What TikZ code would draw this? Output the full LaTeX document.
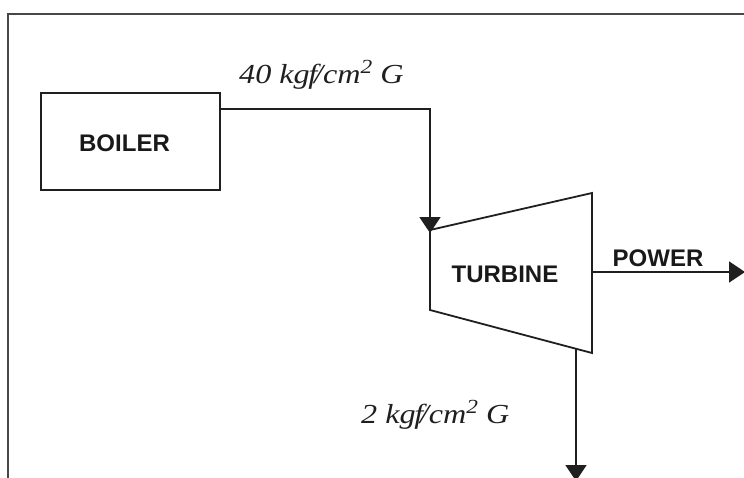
\documentclass[tikz,border=0pt]{standalone}
\usepackage{fontspec}
\setmainfont{Liberation Serif}
\setsansfont{Liberation Sans}
\newfontfamily\lblfont[FakeStretch=1.17]{Liberation Serif}
\usetikzlibrary{arrows.meta,calc}
\newcommand{\supnum}{\raisebox{0.36em}{\fontsize{20}{20}\selectfont 2}}
\begin{document}
\begin{tikzpicture}[x=1pt,y=-1pt,
  line/.style={line width=1.8pt,black!88},
  flow/.style={line, -{Triangle[width=21pt,length=16pt]}},
  unitbox/.style={draw,line width=1.8pt,black!88,minimum width=179pt,minimum height=97pt,inner sep=0pt},
  lbl/.style={font=\sffamily\bfseries\fontsize{24}{26}\selectfont,text=black!90,inner sep=0pt},
  plbl/.style={font=\lblfont\itshape\fontsize{27.5}{30}\selectfont,text=black!88,inner sep=0pt,anchor=base west}]
\useasboundingbox (0,0) rectangle (744,477);
% frame (top and left edges visible)
\draw[line width=2.2pt,black!72] (8,478) -- (8,14) -- (745,14);
% boiler
\node[unitbox] (boiler) at (130.5,141.5) {};
\node[lbl] (boilertxt) at ($(boiler.center)+(-6,2)$) {BOILER};
% turbine
\coordinate (t1) at (430,230);
\coordinate (t2) at (592,193);
\coordinate (t3) at (592,353);
\coordinate (t4) at (430,310);
\draw[line,line join=miter] (t1) -- (t2) -- (t3) -- (t4) -- cycle;
\node[lbl] (turbinetxt) at (505,274) {TURBINE};
% steam in
\coordinate (bout) at ($(boiler.north east)+(0,17)$);
\coordinate (tin) at (430,233);
\draw[flow] (bout) -| (tin);
% power
\coordinate (pout) at (592,272);
\coordinate (pend) at (745,272);
\draw[flow] (pout) -- (pend);
\node[lbl] (powertxt) at (658,258.5) {POWER};
% exhaust
\coordinate (eout) at (576,348.8);
\coordinate (eend) at (576,481);
\draw[flow] (eout) -- (eend);
% labels
\node[plbl] (p40) at (239,83) {40 kg\kern-0.05em f\kern-0.12em/cm\supnum\ G};
\node[plbl] (p2) at (361,423) {2 kg\kern-0.05em f\kern-0.12em/cm\supnum\ G};
\end{tikzpicture}
\end{document}
